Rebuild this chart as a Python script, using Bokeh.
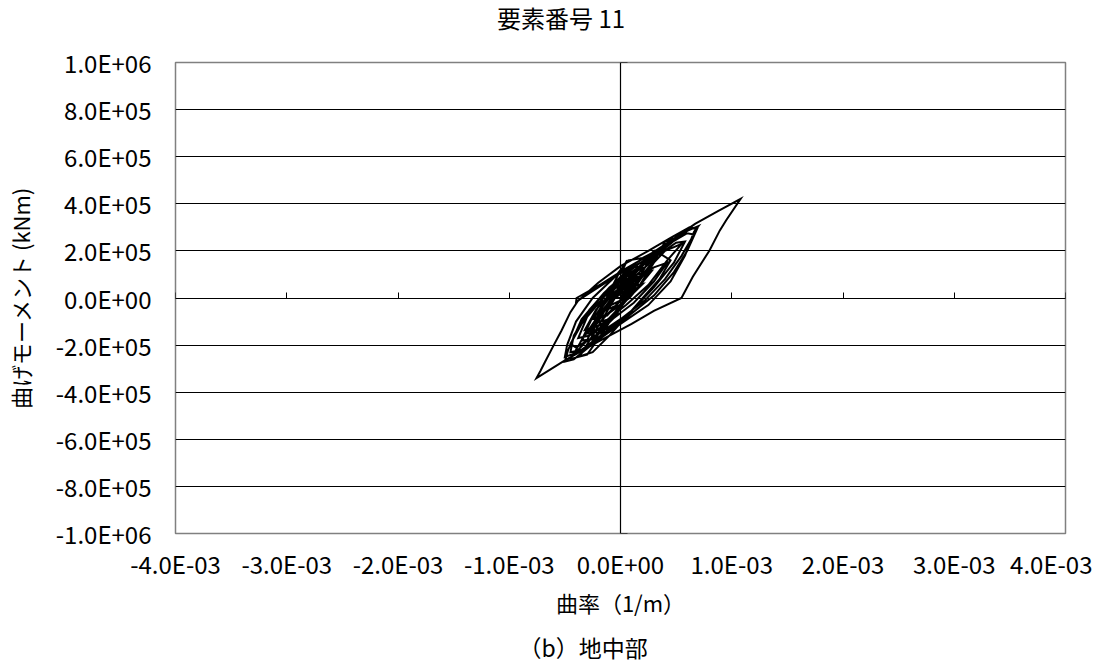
import numpy as np
from bokeh.plotting import figure
from bokeh.layouts import column
from bokeh.models import Range1d, LinearAxis, FixedTicker, Title, CustomJSTickFormatter, Div
from bokeh.embed import file_html
from bokeh.resources import INLINE

FONT = "Noto Sans CJK JP"

title_text = "要素番号 11"
x_label_text = "曲率（1/m）"
y_label_text = "曲げモーメント (kNm)"
caption_text = "（b）地中部"

x_ticks = [-4e-3, -3e-3, -2e-3, -1e-3, 0.0, 1e-3, 2e-3, 3e-3, 4e-3]
x_tick_labels = ["-4.0E-03", "-3.0E-03", "-2.0E-03", "-1.0E-03", "0.0E+00",
                 "1.0E-03", "2.0E-03", "3.0E-03", "4.0E-03"]
y_ticks = [-1e6, -8e5, -6e5, -4e5, -2e5, 0.0, 2e5, 4e5, 6e5, 8e5, 1e6]
y_tick_labels = ["-1.0E+06", "-8.0E+05", "-6.0E+05", "-4.0E+05", "-2.0E+05", "0.0E+00",
                 "2.0E+05", "4.0E+05", "6.0E+05", "8.0E+05", "1.0E+06"]

# hysteresis path: curvature in 1E-03 (1/m), moment in 1E+05 (kNm)
curvature_e3 = [
    0.00, 0.06, 0.12, 0.05, -0.08, -0.15, -0.05, 0.10, 0.20, 0.08,
    -0.12, -0.24, -0.12, 0.08, 0.28, 0.12, -0.05, -0.22, -0.32, -0.18,
    0.05, 0.25, 0.42, 0.55, 0.40, 0.20, 0.00, -0.20, -0.35, -0.45,
    -0.40, -0.22, 0.00, 0.22, 0.40, 0.55, 0.66, 0.60, 0.40, 0.20,
    0.07, -0.05, -0.25, -0.40, -0.48, -0.50, -0.38, -0.18, 0.05, 0.30,
    0.48, 0.60, 0.69, 0.62, 0.45, 0.25, 0.00, -0.20, -0.40, -0.395,
    -0.17, 0.02, 0.25, 0.52, 0.67, 0.88, 1.08, 0.95, 0.893, 0.80,
    0.65, 0.548, 0.30, 0.10, -0.20, -0.50, -0.755, -0.72, -0.68, -0.60,
    -0.53, -0.45, -0.38, -0.20, 0.00, 0.18, 0.05, -0.15, -0.35, -0.47,
    -0.50, -0.42, -0.25, 0.00, 0.25, 0.45, 0.58, 0.66, 0.70, 0.60,
    0.40, 0.15, -0.10, -0.28, -0.42, -0.45, -0.35, -0.15, 0.10, 0.30,
    0.48, 0.58, 0.50, 0.30, 0.08, -0.12, -0.30, -0.38, -0.28, -0.10,
    0.12, 0.30, 0.42, 0.30, 0.10, -0.10, -0.25, -0.15, 0.05, 0.20,
    0.10, -0.05, -0.15, 0.00, 0.10, 0.03,
    0.15, 0.05, -0.10, -0.25, -0.15, 0.05, 0.12, 0.02, 0.06, -0.02,
    -0.18, -0.30, -0.42, -0.33, -0.20, -0.05, 0.10, 0.25, 0.45, 0.52,
    0.40, 0.30, 0.18, 0.00, -0.12, -0.28, -0.38, -0.30, -0.15, 0.00,
    0.15, 0.28, 0.38, 0.30, 0.15, 0.02, -0.15, -0.30, -0.22, -0.05,
    0.10, 0.22, 0.35, 0.45, 0.35, 0.20, 0.05, -0.10, -0.25, -0.45,
    -0.35, -0.25, -0.12, 0.02, 0.15, 0.10, -0.02, -0.18, -0.10, 0.05,
    0.18, 0.08, -0.05,
    0.00, 0.10, 0.22, 0.12, -0.02, -0.15, -0.28, -0.20, -0.05, 0.08,
    0.20, 0.32, 0.22, 0.05, -0.10, -0.22, -0.35, -0.25, -0.08, 0.06,
    0.18, 0.30, 0.40, 0.28, 0.12, -0.05, -0.18, -0.30, -0.20, -0.06,
    0.08, 0.16, 0.04, -0.08, -0.20, -0.12, 0.02, 0.12, 0.04, -0.04,
]
moment_e5 = [
    0.00, 0.35, 0.70, 0.55, -0.05, -0.55, -0.35, 0.30, 0.95, 0.75,
    0.00, -0.85, -0.70, 0.00, 1.15, 0.95, 0.40, -0.50, -1.35, -1.15,
    -0.30, 0.55, 1.60, 2.30, 2.00, 1.45, 0.75, -0.10, -1.10, -1.95,
    -2.10, -1.60, -0.90, -0.10, 0.80, 1.80, 2.70, 2.75, 2.20, 1.70,
    1.60, 0.90, 0.00, -1.00, -2.00, -2.50, -2.30, -1.70, -0.85, 0.10,
    1.10, 2.00, 2.95, 3.00, 2.55, 2.00, 1.35, 0.65, -0.20, 0.00,
    0.60, 1.17, 1.80, 2.65, 3.15, 3.70, 4.21, 3.30, 2.87, 2.02,
    0.90, 0.00, -0.55, -1.10, -1.85, -2.65, -3.40, -3.10, -2.73, -2.00,
    -1.38, -0.60, -0.10, 0.45, 1.05, 1.50, 1.10, 0.20, -0.90, -2.20,
    -2.70, -2.60, -1.95, -1.10, -0.30, 0.70, 1.80, 2.80, 3.05, 2.85,
    2.20, 1.40, 0.45, -0.50, -1.60, -2.30, -2.20, -1.50, -0.55, 0.45,
    1.50, 2.40, 2.35, 1.70, 1.00, 0.20, -0.80, -1.70, -1.60, -1.00,
    -0.20, 0.70, 1.50, 1.30, 0.70, 0.00, -0.90, -0.80, -0.10, 0.60,
    0.50, 0.00, -0.45, -0.10, 0.30, 0.10,
    1.00, 0.90, -0.20, -1.40, -1.30, -0.10, 0.80, 1.20, 1.60, 1.00,
    -0.50, -1.80, -2.40, -2.20, -1.20, 0.00, 0.90, 1.60, 2.30, 2.60,
    2.40, 1.50, 0.60, -0.40, -1.10, -2.00, -2.50, -2.40, -1.40, -0.30,
    0.70, 1.80, 2.10, 2.00, 1.20, 0.50, -0.60, -1.50, -1.60, -0.80,
    0.30, 1.30, 1.90, 1.60, 0.80, 0.00, -0.80, -1.60, -2.30, -2.60,
    -1.80, -0.80, 0.30, 1.00, 1.40, 0.60, -0.20, -1.00, -0.90, -0.10,
    0.80, 0.70, 0.00,
    0.00, 0.80, 1.30, 1.10, 0.20, -0.60, -1.40, -1.35, -0.60, 0.20,
    1.00, 1.70, 1.60, 0.70, -0.20, -0.90, -1.80, -1.75, -0.80, 0.10,
    0.80, 1.50, 2.00, 1.85, 1.00, 0.10, -0.60, -1.50, -1.45, -0.70,
    0.10, 0.90, 0.80, 0.00, -0.80, -0.75, 0.00, 0.60, 0.45, 0.00,
]

curvature = np.array(curvature_e3) * 1e-3
moment = np.array(moment_e5) * 1e5

TITLE_H = 40
p = figure(frame_width=890, frame_height=471, output_backend="svg", toolbar_location=None,
           x_range=Range1d(-4e-3, 4e-3), y_range=Range1d(-1e6, 1e6), title=None,
           min_border_left=174, min_border_right=27, min_border_top=62 - TITLE_H, min_border_bottom=0)
p.background_fill_color = "white"
p.border_fill_color = "white"
p.outline_line_color = "#808080"
p.outline_line_width = 1.5

# labelled outer axes
for ax, ticks, labels in ((p.xaxis[0], x_ticks, x_tick_labels), (p.yaxis[0], y_ticks, y_tick_labels)):
    ax.ticker = FixedTicker(ticks=ticks)
    ax.major_label_overrides = {t: l for t, l in zip(ticks, labels)}
    ax.axis_line_color = None
    ax.major_tick_line_color = None
    ax.minor_tick_line_color = None
    ax.major_tick_in = 0
    ax.major_tick_out = 0
    ax.major_label_text_font = FONT
    ax.major_label_text_font_size = "24px"
    ax.major_label_text_color = "black"
    ax.axis_label_text_font = FONT
    ax.axis_label_text_font_size = "22px"
    ax.axis_label_text_font_style = "normal"
    ax.axis_label_text_color = "black"
p.xaxis[0].major_label_standoff = 12
p.yaxis[0].major_label_standoff = 24
p.xaxis[0].axis_label = x_label_text
p.xaxis[0].axis_label_standoff = 2
p.yaxis[0].axis_label = y_label_text
p.yaxis[0].axis_label_standoff = 17

p.xgrid.visible = False
p.ygrid.ticker = FixedTicker(ticks=y_ticks)
p.ygrid.grid_line_color = "black"
p.ygrid.grid_line_width = 1

# axes crossing at the origin
blank = CustomJSTickFormatter(code="return ''")
xa0 = LinearAxis(fixed_location=0, ticker=FixedTicker(ticks=x_ticks), formatter=blank,
                 axis_line_color="black", axis_line_width=1.2,
                 major_tick_in=6, major_tick_out=0, major_tick_line_color="black",
                 minor_tick_line_color=None, major_label_text_font_size="1px")
ya0 = LinearAxis(fixed_location=0, ticker=FixedTicker(ticks=y_ticks), formatter=blank,
                 axis_line_color="black", axis_line_width=1.2,
                 major_tick_in=7, major_tick_out=0, major_tick_line_color="black",
                 minor_tick_line_color=None, major_label_text_font_size="1px")
p.add_layout(xa0, "below")
p.add_layout(ya0, "left")

p.line(curvature, moment, line_color="black", line_width=2.0, line_join="miter")

# caption below the chart
cap = Title(text=caption_text, text_font=FONT, text_font_size="23px", text_font_style="normal",
            text_color="black", align="left", offset=343, standoff=15)
p.add_layout(cap, "below")

# chart title
title_div = Div(
    text=('<div style="margin-left:497px; padding-top:4px; font-family:\'Noto Sans CJK JP\'; '
          'font-size:24px; line-height:28px; color:black; white-space:nowrap;">' + title_text + '</div>'),
    width=1091, height=TITLE_H, margin=0)

layout = column(title_div, p, spacing=0, margin=0)

open("out.html", "w").write(file_html(layout, INLINE))
